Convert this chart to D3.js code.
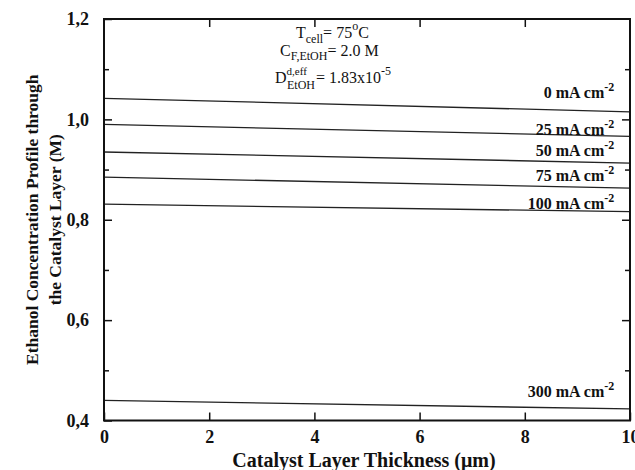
<!DOCTYPE html>
<html>
<head>
<meta charset="utf-8">
<script src="https://cdn.jsdelivr.net/npm/d3@7"></script>
<style>
  body { margin: 0; background: #fff; }
  text { font-family: "Liberation Serif", "Times New Roman", serif; }
</style>
</head>
<body>
<div id="okvir"></div>
<script>
// podatci ocitani sa slike
const gustoce = ["0", "25", "50", "75", "100", "300"];
const debljina = [0, 10];
const konc0 = [1.042, 1.015];
const konc25 = [0.990, 0.966];
const konc50 = [0.935, 0.913];
const konc75 = [0.885, 0.863];
const konc100 = [0.831, 0.816];
const konc300 = [0.440, 0.423];
const koncentracije = [konc0, konc25, konc50, konc75, konc100, konc300];
// gdje stoje natpisi krivulja (vrijednost na y osi za bazu teksta)
const natpisY = [1.042, 0.968, 0.928, 0.878, 0.822, 0.446];

const xTickovi = [0, 2, 4, 6, 8, 10];
const yTickovi = [0.4, 0.6, 0.8, 1.0, 1.2];
const yMinorTickovi = [0.5, 0.7, 0.9, 1.1];

const dim = {
  sirina: 635,
  visina: 470,
  margine: { top: 19, right: 5, bottom: 49.5, left: 104 }
};
dim.grSirina = dim.sirina - dim.margine.left - dim.margine.right;
dim.grVisina = dim.visina - dim.margine.top - dim.margine.bottom;

const svg = d3.select("#okvir").append("svg")
  .attr("width", dim.sirina)
  .attr("height", dim.visina);

const g = svg.append("g")
  .attr("transform", `translate(${dim.margine.left},${dim.margine.top})`);

const xSkala = d3.scaleLinear().domain([0, 10]).range([0, dim.grSirina]);
const ySkala = d3.scaleLinear().domain([0.4, 1.2]).range([dim.grVisina, 0]);

// krivulje
const linija = d3.line()
  .x((d, i) => xSkala(debljina[i]))
  .y(d => ySkala(d));

g.selectAll("path.krivulja")
  .data(koncentracije)
  .join("path")
  .attr("class", "krivulja")
  .attr("d", d => linija(d))
  .attr("fill", "none")
  .attr("stroke", "#222")
  .attr("stroke-width", 1.3);

// osi - tickovi prema unutra
const xOs = g.append("g")
  .attr("transform", `translate(0,${dim.grVisina})`)
  .call(d3.axisBottom(xSkala).tickValues(xTickovi).tickSize(-8).tickPadding(10)
    .tickFormat(d3.format("d")));

const xOsGore = g.append("g")
  .call(d3.axisTop(xSkala).tickValues(xTickovi.slice(1, -1)).tickSize(-8).tickFormat(""));

const yOs = g.append("g")
  .call(d3.axisLeft(ySkala).tickValues(yTickovi).tickSize(-8).tickPadding(15)
    .tickFormat(d => d3.format(".1f")(d).replace(".", ",")));

g.append("g")
  .call(d3.axisLeft(ySkala).tickValues(yMinorTickovi).tickSize(-5).tickFormat(""));

const yOsDesno = g.append("g")
  .attr("transform", `translate(${dim.grSirina},0)`)
  .call(d3.axisRight(ySkala).tickValues(yTickovi.slice(1, -1)).tickSize(-8).tickFormat(""));

g.append("g")
  .attr("transform", `translate(${dim.grSirina},0)`)
  .call(d3.axisRight(ySkala).tickValues(yMinorTickovi).tickSize(-5).tickFormat(""));

g.selectAll(".domain").remove();
g.selectAll(".tick line").attr("stroke", "#111").attr("stroke-width", 1.5);
g.selectAll(".tick text")
  .attr("fill", "#111")
  .style("font-size", "18px")
  .style("font-weight", "bold");

// okvir
g.append("rect")
  .attr("width", dim.grSirina)
  .attr("height", dim.grVisina)
  .attr("fill", "none")
  .attr("stroke", "#111")
  .attr("stroke-width", 2);

// natpisi krivulja
const natpisi = g.selectAll("text.natpis")
  .data(gustoce)
  .join("text")
  .attr("class", "natpis")
  .attr("x", xSkala(9.7))
  .attr("y", (d, i) => ySkala(natpisY[i]))
  .attr("text-anchor", "end")
  .attr("fill", "#111")
  .style("font-size", "16px")
  .style("font-weight", "bold");
natpisi.append("tspan").text(d => d + " mA cm");
natpisi.append("tspan")
  .attr("dy", -7)
  .style("font-size", "12px")
  .text("-2");

// uvjeti
const uvjeti = svg.append("g").attr("fill", "#111").style("font-size", "16px");
const r1 = uvjeti.append("text").attr("x", 296).attr("y", 38);
r1.append("tspan").text("T");
r1.append("tspan").attr("dy", 5).style("font-size", "12px").text("cell");
r1.append("tspan").attr("dy", -5).text("= 75");
r1.append("tspan").attr("dy", -8).style("font-size", "12px").text("o");
r1.append("tspan").attr("dy", 8).text("C");

const r2 = uvjeti.append("text").attr("x", 280).attr("y", 56);
r2.append("tspan").text("C");
r2.append("tspan").attr("dy", 4).style("font-size", "12px").text("F,EtOH");
r2.append("tspan").attr("dy", -4).text("= 2.0 M");

const r3 = uvjeti.append("text").attr("x", 275).attr("y", 83);
r3.append("tspan").text("D");
r3.append("tspan").attr("dy", -8).style("font-size", "11px").text("d,eff");
r3.append("tspan").attr("x", 287).attr("dy", 14).style("font-size", "12px").text("EtOH");
r3.append("tspan").attr("x", 316).attr("dy", -6).text("= 1.83x10");
r3.append("tspan").attr("dy", -8).style("font-size", "12px").text("-5");

// naslovi osi
svg.append("text")
  .attr("x", 364)
  .attr("y", 467)
  .attr("text-anchor", "middle")
  .attr("fill", "#111")
  .style("font-size", "20px")
  .style("font-weight", "bold")
  .text("Catalyst Layer Thickness (μm)");

const yNaslov = svg.append("text")
  .attr("transform", `translate(0,${dim.margine.top + dim.grVisina / 2}) rotate(-90)`)
  .attr("text-anchor", "middle")
  .attr("fill", "#111")
  .style("font-size", "17.5px")
  .style("font-weight", "bold");
yNaslov.append("tspan").attr("x", 0).attr("y", 38).text("Ethanol Concentration Profile through");
yNaslov.append("tspan").attr("x", 0).attr("y", 61).text("the Catalyst Layer (M)");
</script>
</body>
</html>
